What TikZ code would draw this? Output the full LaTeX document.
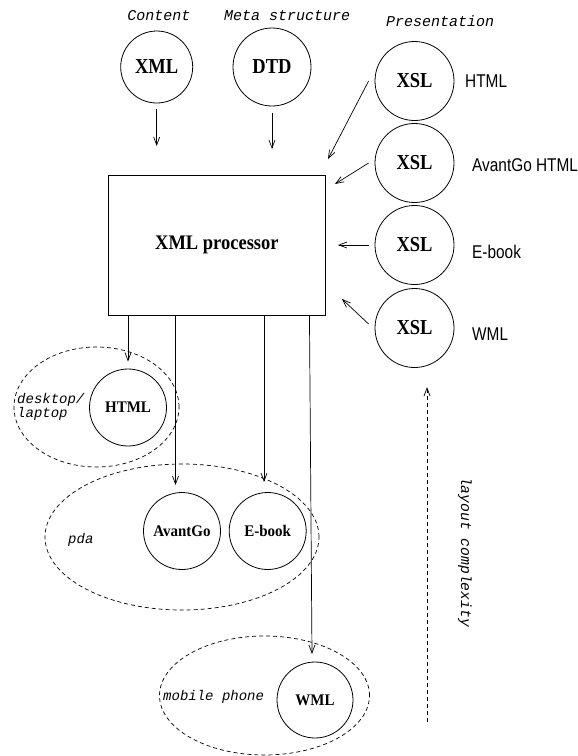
\documentclass[tikz,border=0pt]{standalone}
\usepackage{fontspec}
\usepackage{graphicx}
\setmainfont{Liberation Serif}
\setsansfont{Liberation Sans}
\setmonofont{Liberation Mono}
\usetikzlibrary{arrows.meta,shapes.geometric}

% text helpers: slightly tall lettering
\newcommand{\tallbf}[2]{\scalebox{1}[#1]{\bfseries #2}}
\newcommand{\tallsf}[1]{\scalebox{1}[1.2]{\sffamily #1}}

\tikzset{
  disc/.style={circle, draw, line width=0.8pt, inner sep=0pt, minimum size=#1},
  group/.style={ellipse, draw, dash pattern=on 4pt off 3pt, line width=0.7pt, inner sep=0pt},
  arr/.style={-{Straight Barb[length=8pt,width=6pt]}, line width=0.7pt},
  tlabel/.style={font=\fontsize{15}{17}\selectfont\ttfamily\itshape, inner sep=0pt},
  blabel/.style={font=\fontsize{14}{14}\selectfont\ttfamily\itshape, inner sep=0pt, align=left},
  slabel/.style={font=\fontsize{15.4}{17}\selectfont, inner sep=0pt, anchor=base west},
  top/.style={font=\fontsize{18.5}{20}\selectfont},
  low/.style={font=\fontsize{15}{17}\selectfont}
}

\begin{document}
\begin{tikzpicture}[x=1pt, y=-1pt]
\useasboundingbox (0,0) rectangle (578,756);

% column headings
\node[tlabel, anchor=base] (hcontent) at (159,20) {Content};
\node[tlabel, anchor=base west] (hmeta) at (224,20) {Meta structure};
\node[tlabel, anchor=base west] (hpres) at (386,26.5) {Presentation};

% inputs
\node[disc=72pt, top] (xml) at (156.7,67) {\tallbf{1.15}{XML}};
\node[disc=78pt, top] (dtd) at (272,67) {\tallbf{1.15}{DTD}};

% style sheets
\node[disc=79pt, top] (xsl1) at (414.5,81)  {\tallbf{1.15}{XSL}};
\node[disc=79pt, top] (xsl2) at (414.5,163) {\tallbf{1.15}{XSL}};
\node[disc=79pt, top] (xsl3) at (414.5,245) {\tallbf{1.15}{XSL}};
\node[disc=79pt, top] (xsl4) at (414.5,328) {\tallbf{1.15}{XSL}};

\node[slabel] (lhtml) at (465,87.3)  {\tallsf{HTML}};
\node[slabel] (lavg)  at (472,171.7) {\tallsf{AvantGo HTML}};
\node[slabel] (lebk)  at (472,258)   {\tallsf{E-book}};
\node[slabel] (lwml)  at (472,340.7) {\tallsf{WML}};

% processor
\node[draw, line width=0.8pt, minimum width=216.3pt, minimum height=140pt, inner sep=0pt, top]
  (proc) at (216.9,245) {\tallbf{1.12}{XML processor}};

% device groups
\node[group, minimum width=165pt, minimum height=120pt] (desk) at (96.5,407) {};
\node[group, minimum width=274pt, minimum height=146pt] (pda) at (182,537) {};
\node[group, minimum width=210pt, minimum height=119pt] (mob) at (264.5,695.5) {};

% base of a two-line label sits on its last line
\node[blabel, anchor=base west] (ldesk) at (17,417) {desktop/\\[0pt]laptop};
\node[blabel, anchor=base west] (lpda) at (68,543) {pda};
\node[blabel, anchor=base west] (lmob) at (163,700) {mobile phone};

% outputs
\node[disc=77pt, low] (html) at (128,407.5) {\tallbf{1.08}{HTML}};
\node[disc=77pt, low] (avg)  at (182,531)   {\tallbf{1.08}{AvantGo}};
\node[disc=77pt, low] (ebk)  at (267.7,531) {\tallbf{1.08}{E-book}};
\node[disc=76pt, low] (wml)  at (315,700)   {\tallbf{1.08}{WML}};

% arrow end points
\coordinate (xmlTip) at (156.7,146);
\coordinate (dtdTip) at (272,149);
\coordinate (t1) at (328,159);
\coordinate (t2) at (335,184);
\coordinate (t3) at (338,245);
\coordinate (t4) at (342,299);
\coordinate (tB) at (175.5,485);
\coordinate (tC) at (264,482);
\coordinate (tD) at (312,654);
\coordinate (lcLow) at (427,722);
\coordinate (lcHigh) at (427,387);

% into the processor
\draw[arr, shorten <=6pt] (xml) -- (xmlTip);
\draw[arr, shorten <=7pt] (dtd) -- (dtdTip);
\draw[arr] ([xshift=-6pt]xsl1.west) -- (t1);
\draw[arr] ([xshift=-6pt]xsl2.west) -- (t2);
\draw[arr] ([xshift=-6pt]xsl3.west) -- (t3);
\draw[arr] ([xshift=-6pt,yshift=4pt]xsl4.west) -- (t4);

% out of the processor
\draw[arr] (proc.south -| html) -- ([yshift=7pt]html.north);
\draw[arr] (proc.south -| tB) -- (tB);
\draw[arr] (proc.south -| tC) -- (tC);
\draw[arr] ([xshift=-16pt]proc.south east) -- (tD);

% layout complexity axis
\draw[arr, dash pattern=on 4pt off 3pt] (lcLow) -- (lcHigh);
\node[tlabel, rotate=-90, font=\fontsize{14.7}{16}\selectfont\ttfamily\itshape] (lc) at (465,552) {layout complexity};
\end{tikzpicture}
\end{document}
